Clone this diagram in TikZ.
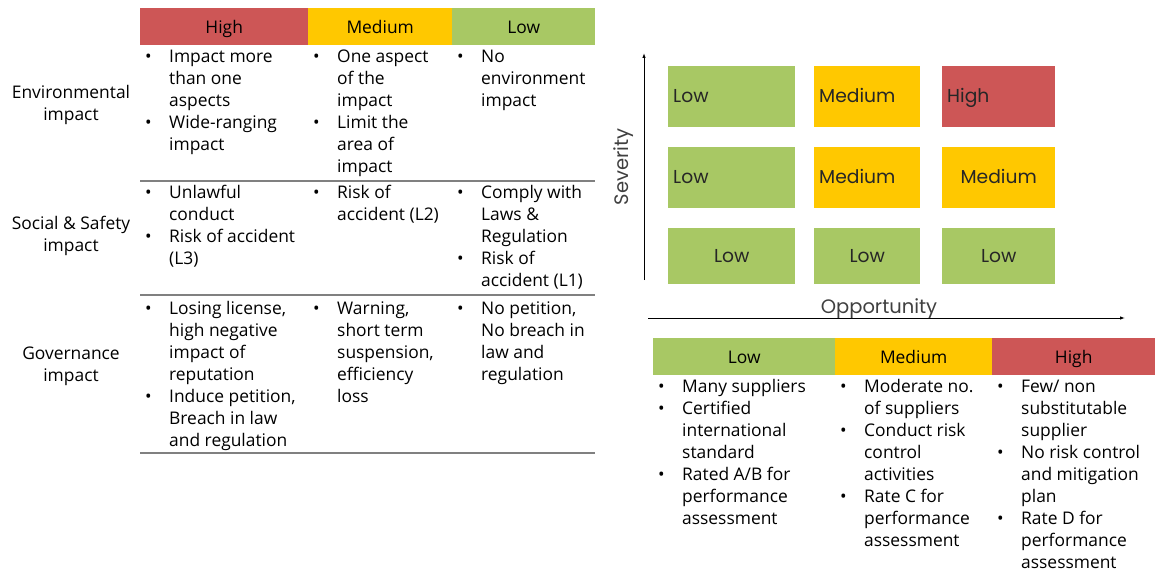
\documentclass[tikz,border=0pt]{standalone}
\usepackage{fontspec}
\usepackage{tikz}
\usetikzlibrary{arrows.meta}

\setmainfont{Open Sans}
\newfontfamily\gridfont{Poppins}

\definecolor{riskred}{RGB}{205,86,86}
\definecolor{riskyellow}{RGB}{255,200,0}
\definecolor{riskgreen}{RGB}{168,200,100}

\newcommand{\cellfont}{\fontsize{17.4}{22}\selectfont}
\newcommand{\itemsbox}[1]{\begin{tabular}[t]{@{}p{24pt}@{}l@{}}#1\end{tabular}}

\begin{document}
\begin{tikzpicture}[x=1pt,y=-1pt]
    \tikzstyle{head}=[
        anchor = north west,
        minimum height = 37pt,
        inner sep = 0pt,
        text height = 13pt,
        text depth = 0pt,
        font = \cellfont
    ]
    \tikzstyle{items}=[
        anchor = base west,
        inner sep = 0pt,
        font = \cellfont
    ]
    \tikzstyle{row label}=[
        align = center,
        inner sep = 0pt,
        font = \cellfont
    ]
    \tikzstyle{grid cell}=[
        anchor = north west,
        inner xsep = 5pt,
        inner ysep = 0pt,
        text height = 14pt,
        text depth = 2pt,
        text = black!85,
        font = \gridfont\fontsize{18.7}{22}\selectfont
    ]
    \tikzstyle{axis label}=[
        text = black!75,
        font = \gridfont\fontsize{19.5}{22}\selectfont
    ]
    \tikzstyle{rule}=[draw = black!50, line width = 1.2pt]
    \tikzstyle{axis}=[-{Latex[length=5pt,width=3.5pt]}, line width = 0.9pt]

    \useasboundingbox (0,0) rectangle (1155,569);

    % impact table
    \node[head, fill=riskred,    minimum width=168pt] (impH) at (140,8) {High};
    \node[head, fill=riskyellow, minimum width=144pt] (impM) at (308,8) {Medium};
    \node[head, fill=riskgreen,  minimum width=143pt] (impL) at (452,8) {Low};

    \node[row label] (env) at (71,105) {Environmental\\impact};
    \node[row label] (soc) at (71,236) {Social \& Safety\\impact};
    \node[row label] (gov) at (71,366) {Governance\\impact};

    \node[items] (envH) at (145,63) {\itemsbox{\textbullet & Impact more\\ & than one\\ & aspects\\ \textbullet & Wide-ranging\\ & impact}};
    \node[items] (envM) at (313,63) {\itemsbox{\textbullet & One aspect\\ & of the\\ & impact\\ \textbullet & Limit the\\ & area of\\ & impact}};
    \node[items] (envL) at (457,63) {\itemsbox{\textbullet & No\\ & environment\\ & impact}};

    \node[items] (socH) at (145,199) {\itemsbox{\textbullet & Unlawful\\ & conduct\\ \textbullet & Risk of accident\\ & (L3)}};
    \node[items] (socM) at (313,199) {\itemsbox{\textbullet & Risk of\\ & accident (L2)}};
    \node[items] (socL) at (457,199) {\itemsbox{\textbullet & Comply with\\ & Laws \&\\ & Regulation\\ \textbullet & Risk of\\ & accident (L1)}};

    \node[items] (govH) at (145,314) {\itemsbox{\textbullet & Losing license,\\ & high negative\\ & impact of\\ & reputation\\ \textbullet & Induce petition,\\ & Breach in law\\ & and regulation}};
    \node[items] (govM) at (313,314) {\itemsbox{\textbullet & Warning,\\ & short term\\ & suspension,\\ & efficiency\\ & loss}};
    \node[items] (govL) at (457,314) {\itemsbox{\textbullet & No petition,\\ & No breach in\\ & law and\\ & regulation}};

    \path[rule] (140,181) -- (595,181);
    \path[rule] (140,295) -- (595,295);
    \path[rule] (140,453) -- (595,453);

    % risk matrix
    \node[grid cell, fill=riskgreen,  text width=117pt, minimum height=61pt, align=left]   (m11) at (668,66)  {Low};
    \node[grid cell, fill=riskyellow, text width=96pt,  minimum height=61pt, align=left]   (m12) at (814,66)  {Medium};
    \node[grid cell, fill=riskred,    text width=103pt, minimum height=61pt, align=left]   (m13) at (942,66)  {High};
    \node[grid cell, fill=riskgreen,  text width=117pt, minimum height=61pt, align=left]   (m21) at (668,147) {Low};
    \node[grid cell, fill=riskyellow, text width=96pt,  minimum height=61pt, align=left]   (m22) at (814,147) {Medium};
    \node[grid cell, fill=riskyellow, text width=103pt, minimum height=61pt, align=center] (m23) at (942,147) {Medium};
    \node[grid cell, fill=riskgreen,  text width=117pt, minimum height=56pt, align=center] (m31) at (668,228) {Low};
    \node[grid cell, fill=riskgreen,  text width=96pt,  minimum height=56pt, align=center] (m32) at (814,228) {Low};
    \node[grid cell, fill=riskgreen,  text width=103pt, minimum height=56pt, align=center] (m33) at (942,228) {Low};

    \coordinate (sevFoot) at (644,280);
    \coordinate (sevTip)  at (644,53);
    \coordinate (oppFoot) at (648,318);
    \coordinate (oppTip)  at (1125,318);
    \draw[axis] (sevFoot) -- (sevTip);
    \draw[axis] (oppFoot) -- (oppTip);
    \node[axis label, rotate=90] (sev) at (624,167) {Severity};
    \node[axis label] (opp) at (879,309) {Opportunity};

    % supplier table
    \node[head, fill=riskgreen,  minimum width=182pt] (supLh) at (653,338) {Low};
    \node[head, fill=riskyellow, minimum width=157pt] (supMh) at (835,338) {Medium};
    \node[head, fill=riskred,    minimum width=163pt] (supHh) at (992,338) {High};

    \node[items] (supL) at (658,392) {\itemsbox{\textbullet & Many suppliers\\ \textbullet & Certified\\ & international\\ & standard\\ \textbullet & Rated A/B for\\ & performance\\ & assessment}};
    \node[items] (supM) at (840,392) {\itemsbox{\textbullet & Moderate no.\\ & of suppliers\\ \textbullet & Conduct risk\\ & control\\ & activities\\ \textbullet & Rate C for\\ & performance\\ & assessment}};
    \node[items] (supH) at (997,392) {\itemsbox{\textbullet & Few/ non\\ & substitutable\\ & supplier\\ \textbullet & No risk control\\ & and mitigation\\ & plan\\ \textbullet & Rate D for\\ & performance\\ & assessment}};

\end{tikzpicture}
\end{document}
